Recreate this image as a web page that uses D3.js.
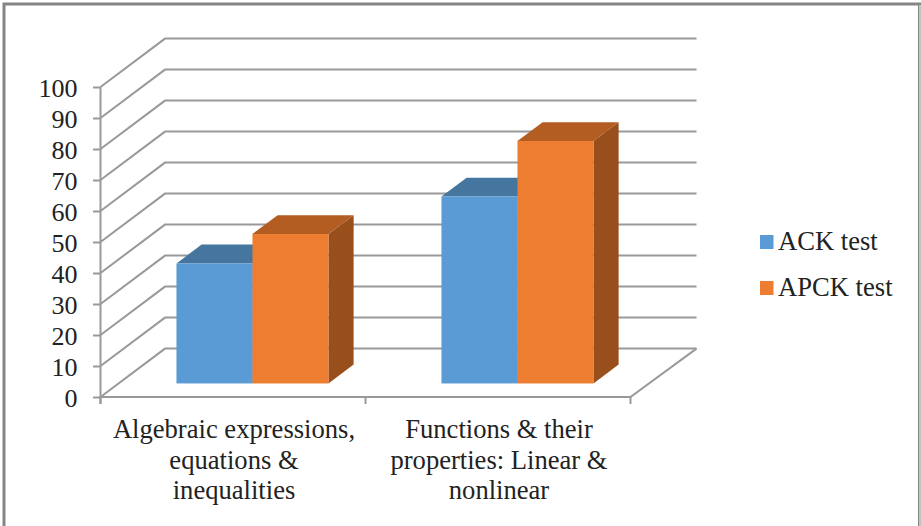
<!DOCTYPE html>
<html>
<head>
<meta charset="utf-8">
<script src="https://cdn.jsdelivr.net/npm/d3@7/dist/d3.min.js"></script>
<style>
  html, body { margin: 0; padding: 0; background: #fff; }
  svg { display: block; }
  text { font-family: "Liberation Serif", "Times New Roman", serif; fill: #222; }
</style>
</head>
<body>
<svg id="chart" width="921" height="526"></svg>
<script>
// Chart data
const categories = [
  ["Algebraic expressions,", "equations &", "inequalities"],
  ["Functions & their", "properties: Linear &", "nonlinear"]
];
const seriesNames = ["ACK test", "APCK test"];
const ackValues = [38.7, 60.3];
const apckValues = [48.2, 78.2];
const yTicks = [0, 10, 20, 30, 40, 50, 60, 70, 80, 90, 100];

const fills = [
  { front: "#5b9bd5", top: "#44769f", side: "#3c6a91" },
  { front: "#ed7d31", top: "#b35d22", side: "#984f1c" }
];
const gridColor = "#999999";

const svg = d3.select("#chart");

// Oblique projection: depth 0 is the front plane, depth 1 the back wall
const depthX = 64.5, depthY = 48.4;
const px = (x, d) => x + d * depthX;
const py = (y, d) => y - d * depthY;

const y = d3.scaleLinear().domain([0, 100]).range([397, 87]);
const x = d3.scaleBand().domain(d3.range(categories.length)).range([100.5, 630.5]);
const barInner = d3.scaleBand().domain([0, 1]).range([0, 152]);
const xEnd = x.range()[1];
const backEnd = px(xEnd, 1) + 1.5;

// Chart frame
svg.append("rect").attr("x", 4).attr("y", 4).attr("width", 915.5).attr("height", 530)
  .attr("fill", "#fff").attr("stroke", "#858585").attr("stroke-width", 3);
svg.append("line").attr("x1", 920).attr("x2", 920).attr("y1", 5).attr("y2", 526)
  .attr("stroke", "#c4c4c4").attr("stroke-width", 2);

// Back-wall gridlines with their side-wall diagonals
const grid = svg.append("g").attr("fill", "none").attr("stroke", gridColor).attr("stroke-width", 2);
grid.selectAll("path").data(yTicks).join("path")
  .attr("d", v => d3.line()([
    [x.range()[0], y(v)],
    [px(x.range()[0], 1), py(y(v), 1)],
    [backEnd, py(y(v), 1)]
  ]));

// Floor edge in front and on the right
grid.append("path").attr("d", d3.line()([
  [x.range()[0], y(0)],
  [xEnd, y(0)],
  [backEnd, py(y(0), 1)]
]));

// Value axis
const yAxis = d3.axisLeft(y).tickValues(yTicks).tickSize(7.5).tickPadding(15.5);
const yG = svg.append("g").attr("transform", `translate(${x.range()[0]},0)`).call(yAxis);
yG.select(".domain").attr("stroke", gridColor).attr("stroke-width", 2).attr("d", `M0,${y(100)}V${y(0) + 7}`);
yG.selectAll(".tick line").attr("stroke", gridColor).attr("stroke-width", 2);
yG.selectAll(".tick text").attr("font-size", 26).attr("font-family", "Liberation Serif").attr("fill", "#222").attr("dy", "0.38em");

// Category ticks
svg.append("g").selectAll("line").data([0, 1, 2]).join("line")
  .attr("x1", i => x.range()[0] + i * x.bandwidth())
  .attr("x2", i => x.range()[0] + i * x.bandwidth())
  .attr("y1", y(0)).attr("y2", y(0) + 7)
  .attr("stroke", gridColor).attr("stroke-width", 2);

// 3D bars: the columns sit part way back on the floor
const barD0 = 0.28, barD1 = 0.67;
const barNudge = 1.4;
const poly = pts => "M" + pts.map(p => p.join(",")).join("L") + "Z";

function drawBar(g, left, width, value, c) {
  const right = left + width;
  const yb = py(y(0), barD0), yt = py(y(value), barD0);
  const dx = (barD1 - barD0) * depthX, dy = (barD1 - barD0) * depthY;
  g.append("path").attr("fill", c.side).attr("d", poly([
    [right, yt], [right + dx, yt - dy], [right + dx, yb - dy], [right, yb]
  ]));
  g.append("path").attr("fill", c.top).attr("d", poly([
    [left, yt], [left + dx, yt - dy], [right + dx, yt - dy], [right, yt]
  ]));
  g.append("rect").attr("fill", c.front)
    .attr("x", left).attr("y", yt).attr("width", width).attr("height", yb - yt);
}

const bars = svg.append("g");
categories.forEach((_, i) => {
  const base = x(i) + x.bandwidth() / 2 - 76 + px(0, barD0) + barNudge;
  drawBar(bars, base + barInner(0), barInner.bandwidth(), ackValues[i], fills[0]);
  drawBar(bars, base + barInner(1), barInner.bandwidth(), apckValues[i], fills[1]);
});

// Category labels, three lines each
const catG = svg.append("g").attr("text-anchor", "middle").attr("font-size", 26.6);
categories.forEach((lines, i) => {
  const t = catG.append("text");
  lines.forEach((line, j) => {
    t.append("tspan")
      .attr("x", x(i) + x.bandwidth() / 2 + 1)
      .attr("y", 438 + j * 30.5)
      .text(line);
  });
});

// Legend
const legend = svg.append("g");
seriesNames.forEach((name, i) => {
  const ly = 235 + i * 46;
  legend.append("rect").attr("x", 760).attr("y", ly).attr("width", 13.5).attr("height", 14).attr("fill", fills[i].front);
  legend.append("text").attr("x", 778).attr("y", ly + 14.5).attr("font-size", 26.6).text(name);
});
</script>
</body>
</html>
